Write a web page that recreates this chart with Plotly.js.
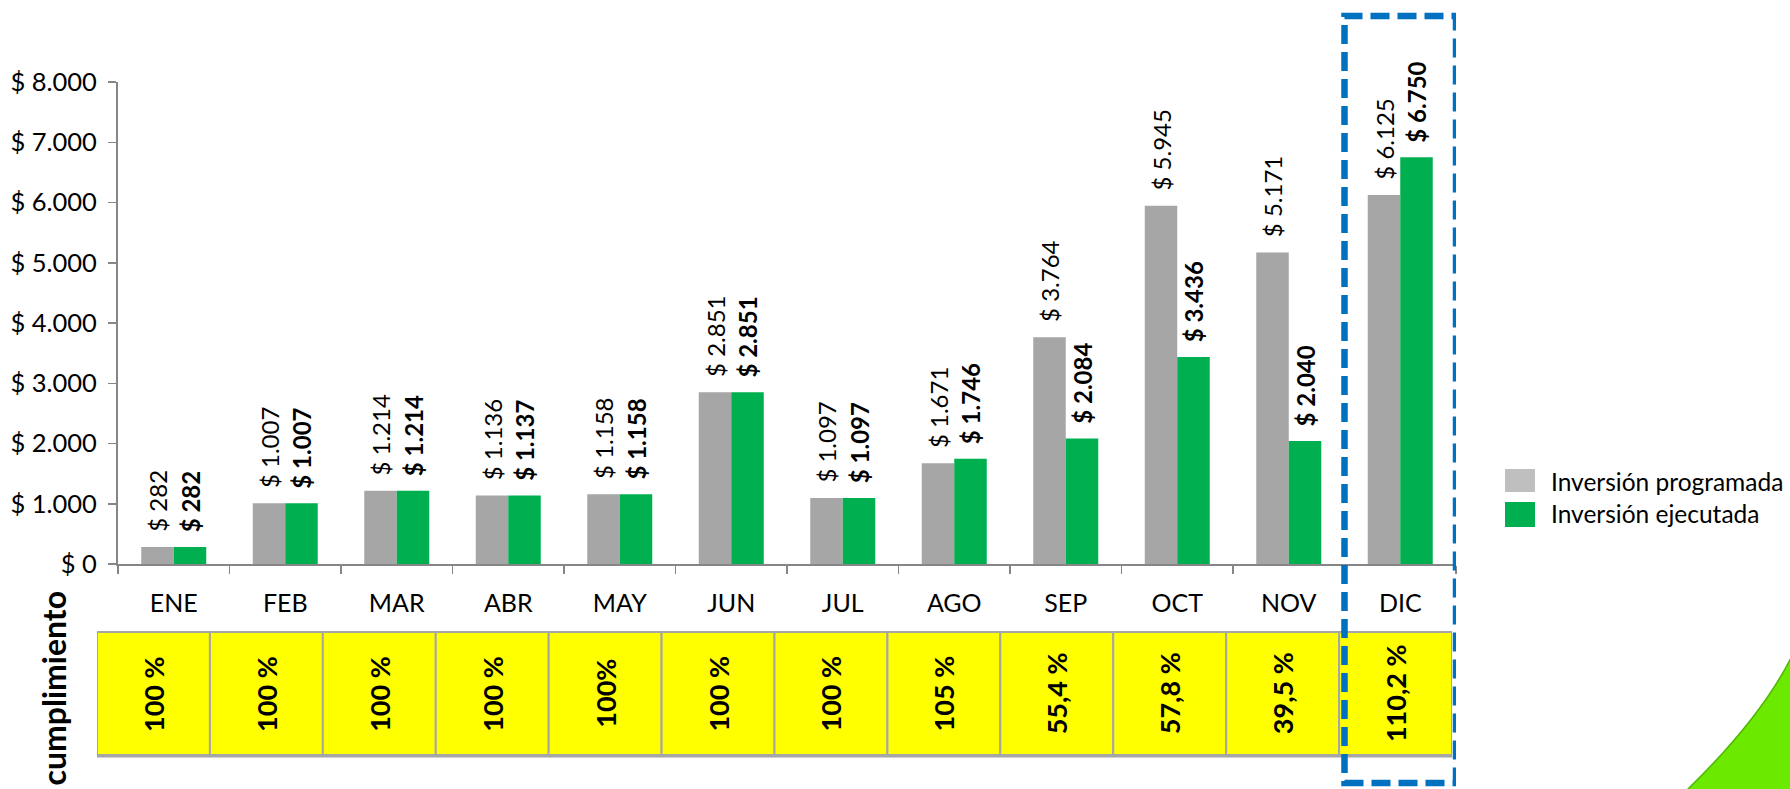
<!DOCTYPE html>
<html>
<head>
<meta charset="utf-8">
<script src="https://cdn.plot.ly/plotly-3.0.1.min.js"></script>
<style>
  html, body { margin: 0; padding: 0; background: #ffffff; }
  #chart { width: 1790px; height: 789px; }
</style>
</head>
<body>
<div id="chart"></div>
<script>
// ---------------- data ----------------
const months = ['ENE','FEB','MAR','ABR','MAY','JUN','JUL','AGO','SEP','OCT','NOV','DIC'];
const programada = [282, 1007, 1214, 1136, 1158, 2851, 1097, 1671, 3764, 5945, 5171, 6125];
const ejecutada  = [282, 1007, 1214, 1137, 1158, 2851, 1097, 1746, 2084, 3436, 2040, 6750];
const cumplimiento = ['100 %','100 %','100 %','100 %','100%','100 %','100 %','105 %','55,4 %','57,8 %','39,5 %','110,2 %'];
const seriesNames = ['Inversión programada', 'Inversión ejecutada'];
const rowTitle = 'cumplimiento';
const highlightMonth = 'DIC';

// ---------------- styles / layout constants ----------------
const FONT = 'Lato, "Open Sans", "DejaVu Sans", sans-serif';
const GRAY = '#A6A6A6';
const GREEN = '#00B050';
const AXIS = '#868686';
const W = 1790, H = 789;
const M = {l: 97, r: 334, t: 82, b: 225};
const plotW = W - M.l - M.r, plotH = H - M.t - M.b;
const px2x = p => (p - M.l) / plotW;          // pixel -> paper x
const py2y = p => (H - M.b - p) / plotH;       // pixel -> paper y
const LABEL_PAD = '\u00a0\u00a0';

const traces = [
  {
    type: 'bar', name: seriesNames[0], x: months, y: programada,
    marker: {color: GRAY, line: {width: 0}},
    texttemplate: LABEL_PAD + '$ %{y:,.0f}', textposition: 'outside', textangle: -90,
    textfont: {family: FONT, size: 24, color: '#000'},
    cliponaxis: false, constraintext: 'none', hoverinfo: 'skip'
  },
  {
    type: 'bar', name: seriesNames[1], x: months, y: ejecutada,
    marker: {color: GREEN, line: {width: 0}},
    texttemplate: LABEL_PAD + '$ %{y:,.0f}', textposition: 'outside', textangle: -90,
    textfont: {family: FONT, size: 24, color: '#000', weight: 700},
    cliponaxis: false, constraintext: 'none', hoverinfo: 'skip'
  }
];

// table of compliance: cells on a hidden helper axis
const tableTop = py2y(632), tableBot = py2y(755);
const shapes = [];
const annotations = [];
months.forEach((m, i) => {
  shapes.push({type: 'rect', xref: 'x2', yref: 'paper', x0: i - 0.5, x1: i + 0.5, y0: tableBot, y1: tableTop,
               fillcolor: '#FFFF00', line: {color: GRAY, width: 2}, layer: 'above'});
  annotations.push({xref: 'x2', yref: 'paper', x: i, y: (tableTop + tableBot) / 2, text: cumplimiento[i],
                    textangle: -90, showarrow: false, xanchor: 'center', yanchor: 'middle',
                    font: {family: FONT, size: 27, color: '#000', weight: 700}});
});
shapes.push({type: 'line', xref: 'x2', yref: 'paper', x0: -0.5, x1: months.length - 0.5, y0: py2y(756), y1: py2y(756),
             line: {color: GRAY, width: 3}});

// row title
annotations.push({xref: 'paper', yref: 'paper', x: px2x(53), y: py2y(588), xanchor: 'center', yanchor: 'top',
                  text: rowTitle, textangle: -90, showarrow: false,
                  font: {family: FONT, size: 32, color: '#000', weight: 700}});

// highlight box around last month
const hi = months.indexOf(highlightMonth);
shapes.push({type: 'rect', xref: 'x', yref: 'paper', x0: hi - 0.5, x1: hi + 0.5, y0: py2y(783), y1: py2y(16),
             line: {color: '#0070C0', width: 6.5, dash: '19px,8px'}, fillcolor: 'rgba(0,0,0,0)', layer: 'above'});

// custom legend
const legendColors = ['#BFBFBF', GREEN];
const legendY = [[469, 492], [502, 527]];
const legendTextY = [481, 513];
seriesNames.forEach((n, k) => {
  shapes.push({type: 'rect', xref: 'paper', yref: 'paper', x0: px2x(1505), x1: px2x(1535),
               y0: py2y(legendY[k][1]), y1: py2y(legendY[k][0]), fillcolor: legendColors[k], line: {width: 0}});
  annotations.push({xref: 'paper', yref: 'paper', x: px2x(1549), y: py2y(legendTextY[k]), xanchor: 'left', yanchor: 'middle',
                    text: n, showarrow: false, font: {family: FONT, size: 24.5, color: '#000'}});
});

// decorative swoosh (slide background)
const s = (x, y) => px2x(x).toFixed(4) + ',' + py2y(y).toFixed(4);
shapes.push({type: 'path', xref: 'paper', yref: 'paper', layer: 'below',
  path: 'M' + s(1676, 800) + ' L' + s(1688, 789) + ' Q' + s(1764.5, 714.5) + ' ' + s(1795, 650) +
        ' L' + s(1800, 650) + ' L' + s(1800, 800) + ' Z',
  fillcolor: '#6BEA00', line: {color: '#4DB800', width: 1.5}});

const layout = {
  width: W, height: H,
  margin: {l: M.l, r: M.r, t: M.t, b: M.b, pad: 0},
  paper_bgcolor: '#ffffff', plot_bgcolor: 'rgba(0,0,0,0)',
  separators: ',.',
  showlegend: false,
  barmode: 'group', bargap: 0.417, bargroupgap: 0,
  font: {family: FONT, size: 23, color: '#000'},
  xaxis: {
    type: 'category', categoryarray: months, domain: [px2x(118), 1], range: [-0.5, 11.5],
    tickson: 'boundaries', ticks: 'outside', ticklen: 8, tickwidth: 1.5, tickcolor: AXIS,
    showline: true, linecolor: AXIS, linewidth: 2, showgrid: false, zeroline: false,
    tickfont: {family: FONT, size: 25, color: '#000'}, ticklabelstandoff: 16, fixedrange: true
  },
  xaxis2: {
    type: 'linear', domain: [0, px2x(1452)], range: [-0.5, 11.5], anchor: 'y', visible: false, fixedrange: true
  },
  yaxis: {
    range: [0, 8000], tick0: 0, dtick: 1000, tickprefix: '$ ', tickformat: ',.0f',
    ticks: 'outside', ticklen: 8, tickwidth: 1.5, tickcolor: AXIS,
    showline: true, linecolor: AXIS, linewidth: 2, showgrid: false, zeroline: false,
    tickfont: {family: FONT, size: 25.5, color: '#000'}, ticklabelstandoff: 6, fixedrange: true
  },
  shapes: shapes,
  annotations: annotations
};

Plotly.newPlot('chart', traces, layout, {staticPlot: true, displayModeBar: false});
</script>
</body>
</html>
